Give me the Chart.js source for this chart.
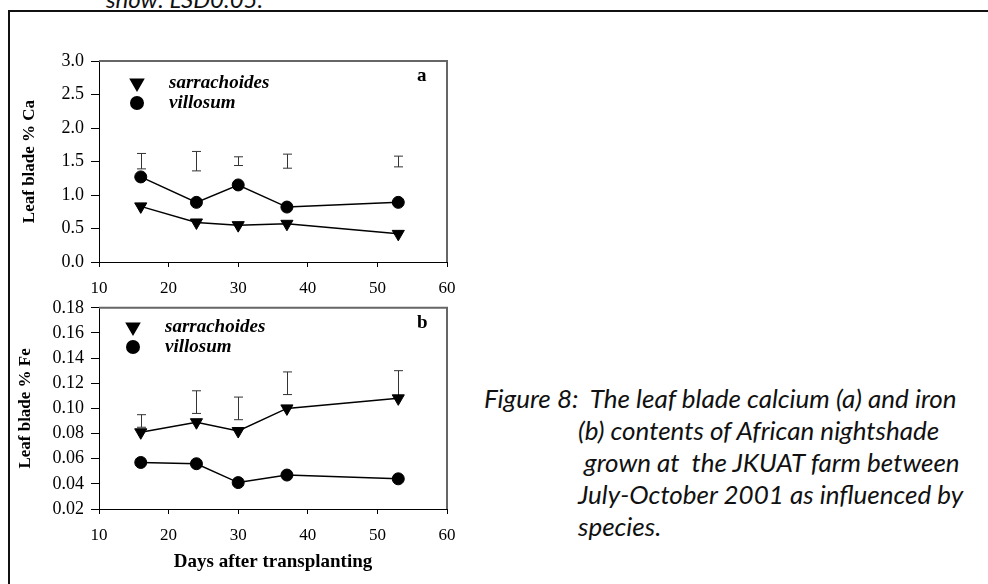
<!DOCTYPE html>
<html>
<head>
<meta charset="utf-8">
<script src="https://cdn.jsdelivr.net/npm/chart.js@4.4.1/dist/chart.umd.min.js"></script>
<style>
  body { margin: 0; background: #fff; width: 988px; height: 584px; overflow: hidden; position: relative; }
  .frame { position: absolute; left: 8px; top: 10px; width: 990px; height: 600px; border-left: 2px solid #111; border-top: 2px solid #111; }
  canvas { position: absolute; left: 0; }
  #caChart { top: 40px; }
  #feChart { top: 290px; }
  .cap { position: absolute; font-family: Lato, "Open Sans", sans-serif; font-style: italic; font-size: 26px; color: #111; white-space: pre; line-height: 32px; }
</style>
</head>
<body>
<div class="frame"></div>
<div class="cap" style="left:106px; top:-17px; font-size:24px;">show: LSD0.05.</div>
<canvas id="caChart" width="470" height="260"></canvas>
<canvas id="feChart" width="470" height="294"></canvas>
<div class="cap" style="left:484px; top:382px;">Figure 8:  The leaf blade calcium (a) and iron</div>
<div class="cap" style="left:578px; top:414px;">(b) contents of African nightshade</div>
<div class="cap" style="left:578px; top:446px;"> grown at  the JKUAT farm between</div>
<div class="cap" style="left:578px; top:478px;">July-October 2001 as influenced by</div>
<div class="cap" style="left:578px; top:510px;">species.</div>
<script>
// sampling days (days after transplanting)
const days = [16, 24, 30, 37, 53];

// leaf blade % Ca
const caSarrachoides = [0.83, 0.59, 0.55, 0.57, 0.42];
const caVillosum = [1.27, 0.89, 1.15, 0.82, 0.89];
const caLsdLow = [1.39, 1.36, 1.44, 1.40, 1.42];
const caLsdHigh = [1.62, 1.65, 1.57, 1.61, 1.58];

// leaf blade % Fe
const feSarrachoides = [0.081, 0.089, 0.082, 0.100, 0.108];
const feVillosum = [0.057, 0.056, 0.041, 0.047, 0.044];
const feLsdLow = [0.085, 0.096, 0.091, 0.111, 0.110];
const feLsdHigh = [0.095, 0.114, 0.109, 0.129, 0.130];

const speciesNames = ['sarrachoides', 'villosum'];

const serif = "'Liberation Serif', 'Times New Roman', serif";

function pts(ys) {
    return days.map((d, i) => ({ x: d, y: ys[i] }));
}

// LSD bars, plot frame, legend and panel letter
const panelExtras = {
    id: 'panelExtras',
    beforeDatasetsDraw(chart, args, opts) {
        const ctx = chart.ctx;
        const xs = chart.scales.x, ys = chart.scales.y;
        ctx.save();
        ctx.strokeStyle = '#333';
        ctx.lineWidth = 1;
        opts.low.forEach((lo, i) => {
            const x = Math.round(xs.getPixelForValue(days[i])) + 0.5;
            const y1 = ys.getPixelForValue(lo);
            const y2 = ys.getPixelForValue(opts.high[i]);
            ctx.beginPath();
            ctx.moveTo(x, y1); ctx.lineTo(x, y2);
            ctx.moveTo(x - 4.5, y1); ctx.lineTo(x + 4.5, y1);
            ctx.moveTo(x - 4.5, y2); ctx.lineTo(x + 4.5, y2);
            ctx.stroke();
        });
        ctx.restore();
    },
    afterDraw(chart, args, opts) {
        const ctx = chart.ctx;
        const a = chart.chartArea;
        ctx.save();
        ctx.strokeStyle = '#666';
        ctx.lineWidth = 2;
        ctx.beginPath();
        ctx.moveTo(a.left, a.top);
        ctx.lineTo(a.right, a.top);
        ctx.lineTo(a.right, a.bottom);
        ctx.stroke();

        // legend
        const styles = [
            { pointStyle: 'triangle', rotation: 180, radius: 7, borderWidth: 1 },
            { pointStyle: 'circle', rotation: 0, radius: 6, borderWidth: 1 }
        ];
        ctx.fillStyle = '#000';
        ctx.strokeStyle = '#000';
        ctx.font = "italic bold 19px " + serif;
        ctx.textBaseline = 'middle';
        speciesNames.forEach((name, i) => {
            const y = opts.legendY + i * 20;
            Chart.helpers.drawPoint(ctx, styles[i], opts.legendX, y);
            ctx.fillStyle = '#000';
            ctx.fillText(name, opts.legendX + 32, y);
        });

        ctx.font = "bold 19px " + serif;
        ctx.fillText(opts.letter, a.right - 30, a.top + 15);
        ctx.restore();
    }
};

function makeChart(id, sarr, vill, low, high, yMin, yMax, yStep, digits, yTitle, xTitle, opts) {
    const xAxisTitle = xTitle
        ? { display: true, text: xTitle, color: '#000', font: { family: serif, size: 19, weight: 'bold' }, padding: { top: 4, bottom: 11 } }
        : { display: false };
    return new Chart(document.getElementById(id), {
        type: 'line',
        data: {
            datasets: [{
                label: speciesNames[0],
                data: pts(sarr),
                borderColor: '#000',
                backgroundColor: '#000',
                borderWidth: 1.5,
                pointStyle: 'triangle',
                pointRotation: 180,
                pointRadius: 7,
                pointBorderWidth: 1
            }, {
                label: speciesNames[1],
                data: pts(vill),
                borderColor: '#000',
                backgroundColor: '#000',
                borderWidth: 1.5,
                pointStyle: 'circle',
                pointRadius: 6,
                pointBorderWidth: 1
            }]
        },
        options: {
            responsive: false,
            animation: false,
            devicePixelRatio: 1,
            layout: { padding: { top: opts.padTop, right: 23, left: 0, bottom: 0 } },
            plugins: {
                legend: { display: false },
                tooltip: { enabled: false },
                panelExtras: { low: low, high: high, legendX: opts.legendX, legendY: opts.legendY, letter: opts.letter }
            },
            scales: {
                x: {
                    type: 'linear',
                    min: 10, max: 60,
                    grid: { drawOnChartArea: false, drawTicks: true, tickLength: 5, color: '#000' },
                    border: { display: true, color: '#000', width: 1 },
                    ticks: { stepSize: 10, color: '#000', padding: 11, font: { family: serif, size: 17 } },
                    title: xAxisTitle,
                    afterFit: s => { s.height = opts.xHeight; }
                },
                y: {
                    min: yMin, max: yMax,
                    grid: { drawOnChartArea: false, drawTicks: true, tickLength: 8, color: '#000' },
                    border: { display: true, color: '#000', width: 1 },
                    ticks: {
                        stepSize: yStep, autoSkip: false, color: '#000', padding: 7,
                        font: { family: serif, size: 18 },
                        callback: v => Number(v).toFixed(digits)
                    },
                    title: { display: true, text: yTitle, color: '#000', font: { family: serif, size: 17, weight: 'bold' }, padding: { top: opts.yTitlePad, bottom: 0 } },
                    afterFit: s => { s.width = 99; }
                }
            }
        },
        plugins: [panelExtras]
    });
}

window.addEventListener('load', () => {
    makeChart('caChart', caSarrachoides, caVillosum, caLsdLow, caLsdHigh, 0, 3, 0.5, 1,
        'Leaf blade % Ca', null,
        { padTop: 21, xHeight: 38, legendX: 137, legendY: 43, letter: 'a', yTitlePad: 19 });
    makeChart('feChart', feSarrachoides, feVillosum, feLsdLow, feLsdHigh, 0.02, 0.18, 0.02, 2,
        'Leaf blade % Fe', 'Days after transplanting',
        { padTop: 17, xHeight: 75, legendX: 133, legendY: 37, letter: 'b', yTitlePad: 15 });
});
</script>
</body>
</html>
